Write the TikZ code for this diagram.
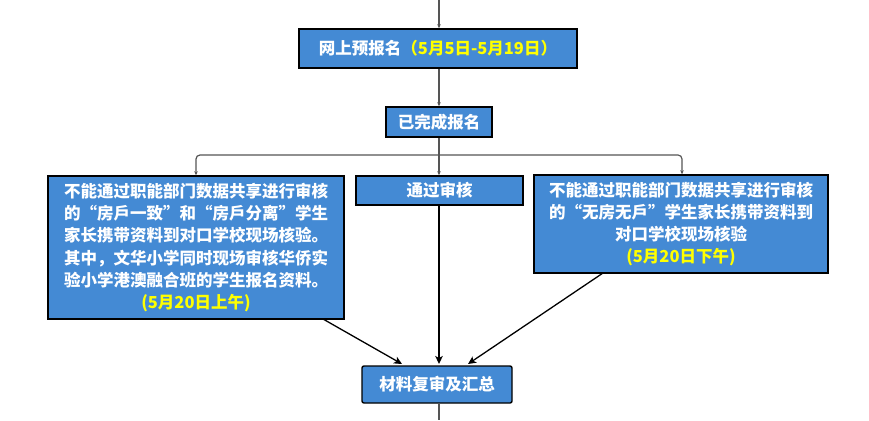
\documentclass[tikz,border=0pt]{standalone}
\usepackage{fontspec}
\newfontfamily\cjk{Noto Sans CJK SC}
\usetikzlibrary{arrows.meta}
\definecolor{boxblue}{RGB}{68,138,212}
\definecolor{hlyellow}{RGB}{255,255,0}
\definecolor{lineg}{RGB}{85,85,85}
\begin{document}
\begin{tikzpicture}[x=1pt,y=-1pt,
  box/.style={draw=black,line width=1.4pt,fill=boxblue,text=white,inner sep=0pt,
    font={\cjk\bfseries\fontsize{16.5}{22.3}\selectfont},align=center},
  gline/.style={draw=lineg,line width=1.2pt,-{Stealth[length=4pt,width=3.5pt]}},
  bline/.style={draw=black,line width=1.3pt,-{Stealth[length=8pt,width=7.5pt,inset=2pt]}}]
\useasboundingbox (0,0) rectangle (869,420);
\node[box,minimum width=278pt,minimum height=39pt] (reg) at (438,48.5)
  {网上预报名\textcolor{hlyellow}{（5月5日-5月19日）}};
\node[box,minimum width=106pt,minimum height=30pt] (done) at (439,122) {已完成报名};
\node[box,minimum width=296pt,minimum height=143pt] (left) at (196,247.5)
  {不能通过职能部门数据共享进行审核\\
   的“房戶一致”和“房戶分离”学生\\
   家长携带资料到对口学校现场核验。\\
   其中，文华小学同时现场审核华侨实\\
   验小学港澳融合班的学生报名资料。\\
   \textcolor{hlyellow}{(5月20日上午)}};
\node[box,minimum width=167pt,minimum height=29pt] (pass) at (439.5,190.5) {通过审核};
\node[box,minimum width=294pt,minimum height=98pt] (right) at (681,224)
  {不能通过职能部门数据共享进行审核\\
   的“无房无戶”学生家长携带资料到\\
   对口学校现场核验\\
   \textcolor{hlyellow}{(5月20日下午)}};
\node[box,rounded corners=2pt,minimum width=150pt,minimum height=37pt] (sum) at (437,384.5) {材料复审及汇总};
\coordinate (top) at (439,0);
\coordinate (bot) at (439,420);
\coordinate (split) at (439,155);
\draw[gline] (top) -- (top |- reg.north);
\draw[gline] (top |- reg.south) -- (top |- done.north);
\draw[draw=lineg,line width=1.2pt] (top |- done.south) -- (split);
\draw[gline,rounded corners=4pt] (split) -- (196,155) -- (left.north);
\draw[gline,rounded corners=4pt] (split) -- (682,155) -- (682,0 |- right.north);
\draw[gline] (split) -- (split |- pass.north);
\draw[bline] (323,319) -- (402,364);
\draw[bline] (pass.south -| split) -- (439,364);
\draw[bline] (603,273) -- (468,364);
\draw[draw=lineg,line width=1.2pt] (top |- sum.south) -- (bot);
\end{tikzpicture}
\end{document}
